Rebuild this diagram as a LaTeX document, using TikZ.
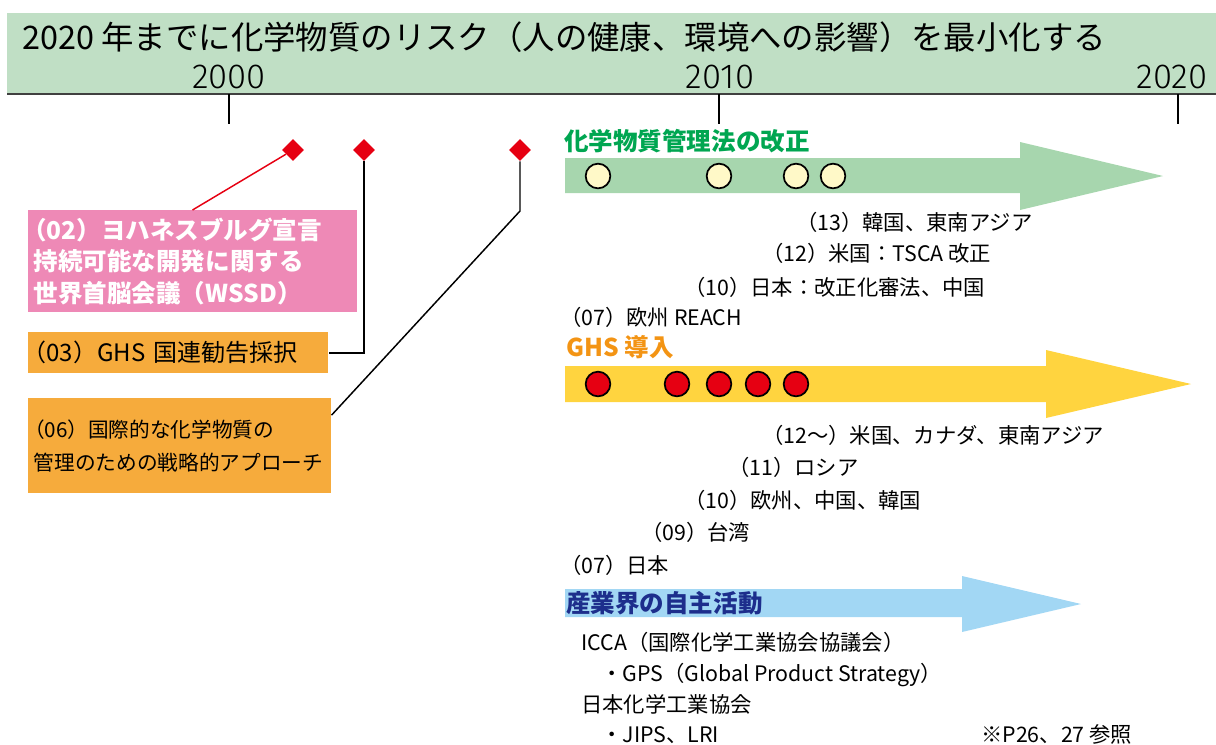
\documentclass[tikz,border=0pt]{standalone}
\usepackage{fontspec}
\setmainfont{Noto Sans CJK JP}
\newfontfamily\yearfont{Fira Sans Light}
\usetikzlibrary{shapes.geometric,calc}

\definecolor{bannergreen}{HTML}{C0DFC5}
\definecolor{lawgreen}{HTML}{A7D6AE}
\definecolor{lawtext}{HTML}{00A651}
\definecolor{lawdotc}{HTML}{FFF9C8}
\definecolor{ghsyellow}{HTML}{FFD43F}
\definecolor{ghsorange}{HTML}{F39414}
\definecolor{evred}{HTML}{E60012}
\definecolor{boxorange}{HTML}{F6AB3C}
\definecolor{boxpink}{HTML}{EE89B6}
\definecolor{indblue}{HTML}{A2D7F4}
\definecolor{indtext}{HTML}{1D2E8C}

\tikzset{
  note/.style={anchor=west, inner sep=0pt, font=\fontsize{16}{16}\selectfont,
    text height=14.1pt, text depth=1.9pt},
  head/.style={anchor=west, inner sep=0pt, font=\bfseries\fontsize{18.4}{18.4}\selectfont,
    text height=16.2pt, text depth=2.2pt},
  year/.style={inner sep=0pt, font=\yearfont\fontsize{26}{26}\selectfont},
  tick/.style={line width=1.4pt},
  gem/.style={diamond, fill=evred, inner sep=0pt, minimum size=16.5pt},
  lawdot/.style={circle, draw=black, line width=1.3pt, fill=lawdotc,
    minimum size=18.5pt, inner sep=0pt},
  ghsdot/.style={lawdot, fill=evred},
  evbox/.style={anchor=north west, inner xsep=4.5pt, inner ysep=0pt, align=left},
  link/.style={line width=1.1pt}
}

\begin{document}
\begin{tikzpicture}[x=0.75pt, y=-0.75pt]
  \useasboundingbox (0,0) rectangle (1216,744);

  % goal banner and time axis
  \fill[bannergreen] (7,13) rectangle (1216,94);
  \draw[line width=0.9pt, black!75] (7,94) -- (1216,94);
  \node[anchor=west, inner sep=0pt, font=\fontsize{24.3}{24.3}\selectfont] (goal) at (22,37)
    {2020 年までに化学物質のリスク（人の健康、環境への影響）を最小化する};
  \node[year] (y2000) at (229,77) {2000};
  \node[year] (y2010) at (720,77) {2010};
  \node[year] (y2020) at (1172,77) {2020};
  \foreach \x in {229,719,1178}
    \draw[tick] (\x,94) -- (\x,124);

  % international events
  \node[gem] (d02) at (293,150) {};
  \node[gem] (d03) at (364,150) {};
  \node[gem] (d06) at (520,150) {};

  \node[evbox, fill=boxpink, text=white, font=\bfseries\fontsize{18.4}{23.6}\selectfont,
    minimum width=247.1pt, minimum height=76.5pt, text width=238.1pt] (b02) at (27.5,210)
    {\hspace*{-.47em}（02）ヨハネスブルグ宣言\\持続可能な開発に関する\\世界首脳会議（WSSD）};
  \node[evbox, fill=boxorange, font=\fontsize{18}{18}\selectfont,
    minimum width=225.4pt, minimum height=30.75pt, text width=216.4pt] (b03) at (27.5,332)
    {\hspace*{-.47em}（03）GHS 国連勧告採択};
  \node[evbox, fill=boxorange, font=\fontsize{15.5}{24.75}\selectfont,
    minimum width=227.6pt, minimum height=71.25pt, text width=218.6pt] (b06) at (27.5,398)
    {\hspace*{-.47em}（06）国際的な化学物質の\\管理のための戦略的アプローチ};

  \draw[link, evred] (d02) -- (b02.north);
  \draw[link] (d03) |- (b03.east);
  \coordinate (k06) at (520,211);
  \draw[link] (d06) -- (k06) -- ($(b06.north east)!0.18!(b06.south east)$);

  % chemical management laws
  \fill[lawgreen] (565,158) -- (1020,158) -- (1020,142) -- (1163,176)
    -- (1020,210) -- (1020,193) -- (565,193) -- cycle;
  \node[head, text=lawtext] (lawhead) at (564,141) {化学物質管理法の改正};
  \foreach \x [count=\n] in {598,719,796,833}
    \node[lawdot] (law\n) at (\x,176) {};
  \node[note] (law13) at (796,222) {（13）韓国、東南アジア};
  \node[note] (law12) at (762,253) {（12）米国：TSCA 改正};
  \node[note] (law10) at (684,287) {（10）日本：改正化審法、中国};
  \node[note] (law07) at (560,317) {（07）欧州 REACH};

  % GHS introduction
  \fill[ghsyellow] (565,366) -- (1046,366) -- (1046,350) -- (1191,384)
    -- (1046,418) -- (1046,402) -- (565,402) -- cycle;
  \node[head, text=ghsorange] (ghshead) at (566,347) {GHS 導入};
  \foreach \x [count=\n] in {598,677,719,758,796}
    \node[ghsdot] (ghs\n) at (\x,384) {};
  \node[note] (ghs12) at (762,435) {（12〜）米国、カナダ、東南アジア};
  \node[note] (ghs11) at (728,467) {（11）ロシア};
  \node[note] (ghs10) at (684,500) {（10）欧州、中国、韓国};
  \node[note] (ghs09) at (641,532) {（09）台湾};
  \node[note] (ghs07) at (560,565) {（07）日本};

  % voluntary industry activities
  \fill[indblue] (565,589) -- (962,589) -- (962,576) -- (1081,604)
    -- (962,632) -- (962,617) -- (565,617) -- cycle;
  \node[head, text=indtext] (indhead) at (566,603) {産業界の自主活動};
  \node[note] (icca) at (581,642) {ICCA（国際化学工業協会協議会）};
  \node[note] (gps) at (601,673) {・GPS（Global Product Strategy）};
  \node[note] (jcia) at (581,704) {日本化学工業協会};
  \node[note] (jips) at (601,734) {・JIPS、LRI};
  \node[note] (ref) at (981,734) {※P26、27 参照};
\end{tikzpicture}
\end{document}
